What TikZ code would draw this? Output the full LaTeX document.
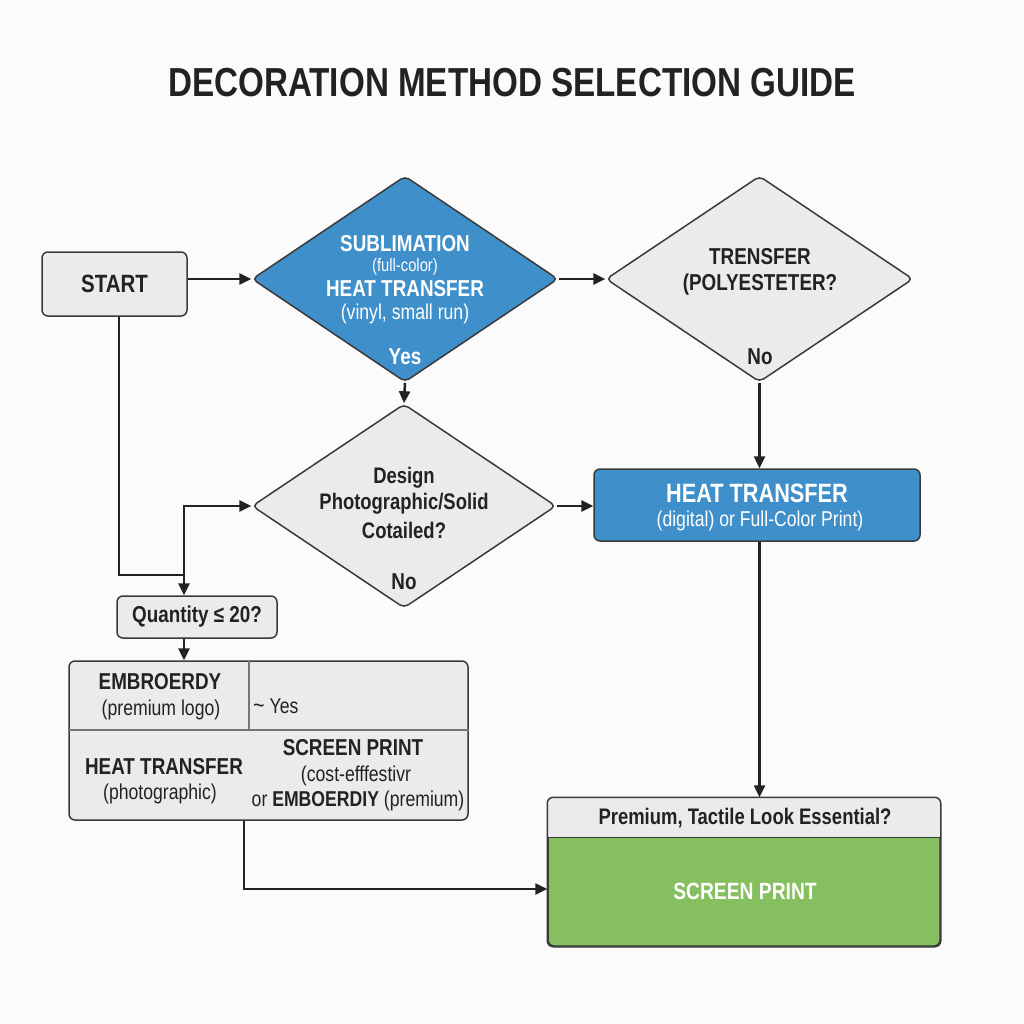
\documentclass[tikz,border=0pt]{standalone}
\usepackage{fontspec}
\setmainfont[FakeStretch=0.82]{Liberation Sans}
\usetikzlibrary{shapes.geometric,arrows.meta,calc}
\definecolor{boxgray}{HTML}{EBEBEB}
\definecolor{edge}{HTML}{3A3A3A}
\definecolor{bluefill}{HTML}{3F8FCB}
\definecolor{greenfill}{HTML}{86BF5F}
\definecolor{ink}{HTML}{222222}
\definecolor{bg}{HTML}{FBFBFB}
\tikzset{
  box/.style={draw=edge, line width=1.5pt, rounded corners=6pt, fill=boxgray, inner sep=0pt},
  dia/.style={diamond, draw=edge, line width=1.5pt, rounded corners=5pt, fill=boxgray, inner sep=0pt},
  bt/.style={font=\fontsize{23}{26}\selectfont\bfseries, text=ink, inner sep=0pt},
  rt/.style={font=\fontsize{21.5}{24}\selectfont, text=ink, inner sep=0pt},
  wb/.style={bt, text=white},
  wr/.style={rt, text=white},
  conn/.style={draw=ink, line width=2.5pt, -{Triangle[length=12pt,width=11pt]}},
  divider/.style={draw=edge!70, line width=1.2pt}
}
\begin{document}
\begin{tikzpicture}[x=1pt,y=-1pt]
\fill[bg] (0,0) rectangle (1024,1024);
\useasboundingbox (0,0) rectangle (1024,1024);

% title
\node[font=\fontsize{40.5}{44}\selectfont\bfseries, text=ink, inner sep=0pt] (title) at (512,83) {DECORATION METHOD SELECTION GUIDE};

% start
\node[box, minimum width=145pt, minimum height=64pt] (start) at (114.5,284) {};
\node[bt, font=\fontsize{25}{28}\selectfont\bfseries] (startt) at (start.center) {START};

% diamond 1 (blue)
\node[dia, fill=bluefill, minimum width=306pt, minimum height=206pt] (d1) at (405,279) {};
\node[wb] (d1a) at (405,244) {SUBLIMATION};
\node[wr, font=\fontsize{18}{20}\selectfont] (d1b) at (405,267) {(full-color)};
\node[wb] (d1c) at (405,289) {HEAT TRANSFER};
\node[wr] (d1d) at (405,314) {(vinyl, small run)};
\node[wb] (d1y) at (405,357) {Yes};

% diamond 2
\node[dia, minimum width=307pt, minimum height=206pt] (d2) at (759.5,279) {};
\node[bt] (d2a) at (760,257) {TRENSFER};
\node[bt] (d2b) at (760,285) {(POLYESTETER?};
\node[bt] (d2n) at (760,357) {No};

% diamond 3
\node[dia, minimum width=304pt, minimum height=204pt] (d3) at (404,506) {};
\node[bt, font=\fontsize{22.5}{25}\selectfont\bfseries] (d3a) at (404,478) {Design};
\node[bt, font=\fontsize{22.5}{25}\selectfont\bfseries] (d3b) at (404,504) {Photographic/Solid};
\node[bt, font=\fontsize{22.5}{25}\selectfont\bfseries] (d3c) at (404,530) {Cotailed?};
\node[bt] (d3n) at (404,582) {No};

% heat transfer box (blue)
\node[box, fill=bluefill, minimum width=326pt, minimum height=72pt] (ht) at (757,505) {};
\node[wb, font=\fontsize{26.5}{29}\selectfont\bfseries] (hta) at (757,493) {HEAT TRANSFER};
\node[wr] (htb) at (760,521) {(digital) or Full-Color Print)};

% quantity box
\node[box, minimum width=160pt, minimum height=42pt] (qty) at (197,617) {};
\node[bt] (qtyt) at (qty.center) {Quantity ≤ 20?};

% table box
\node[box, minimum width=399pt, minimum height=159pt] (tbl) at (268.5,740.5) {};
\draw[divider] (tbl.west |- 0,730) -- (tbl.east |- 0,730);
\draw[divider] (249,661) -- (249,730);
\node[bt] (t1a) at (160,682) {EMBROERDY};
\node[rt] (t1b) at (161,710) {(premium logo)};
\node[rt, anchor=west] (t2) at (253,706) {{\fontsize{24}{26}\selectfont\char"007E}\ Yes};
\node[bt] (t3a) at (164,767) {HEAT TRANSFER};
\node[rt] (t3b) at (160,794) {(photographic)};
\node[bt] (t4a) at (353,748) {SCREEN PRINT};
\node[rt] (t4b) at (356,776) {(cost-efffestivr};
\node[rt] (t4c) at (358,801) {or {\bfseries EMBOERDIY} (premium)};

% final box
\node[box, fill=greenfill, minimum width=392pt, minimum height=148pt] (fin) at (744,872) {};
\begin{scope}
  \clip[rounded corners=6pt] (fin.south west) rectangle (fin.north east);
  \fill[boxgray] (fin.north west) rectangle ($(fin.north east)+(0,40)$);
\end{scope}
\draw[draw=edge, line width=1.5pt] ($(fin.north west)+(0,40)$) -- ($(fin.north east)+(0,40)$);
\draw[draw=edge, line width=1.5pt, rounded corners=6pt] (fin.south west) rectangle (fin.north east);
\node[bt, font=\fontsize{22.5}{25}\selectfont\bfseries] (finq) at (745,818) {Premium, Tactile Look Essential?};
\node[wb, font=\fontsize{23.5}{26}\selectfont\bfseries] (fint) at (745,891) {SCREEN PRINT};

% connectors
\coordinate (j) at (184,575);
\draw[conn] (start.east |- d1.west) -- (d1.west);
\draw[conn] (d1.east) -- (d2.west);
\draw[conn] (d1.south) -- (d3.north);
\draw[conn] (d2.south) -- (d2.south |- ht.north);
\draw[conn] (d3.east) -- (d3.east -| ht.west);
\draw[conn, -] ([xshift=4.5pt]start.south) |- (j);
\draw[conn] (j) -- (j |- qty.north);
\draw[conn] (j) |- (d3.west);
\draw[conn] (j |- qty.south) -- (j |- tbl.north);
\draw[conn] (tbl.south -| 244,0) |- ([yshift=-17pt]fin.west);
\draw[conn] (d2.south |- ht.south) -- (d2.south |- fin.north);
\end{tikzpicture}
\end{document}
